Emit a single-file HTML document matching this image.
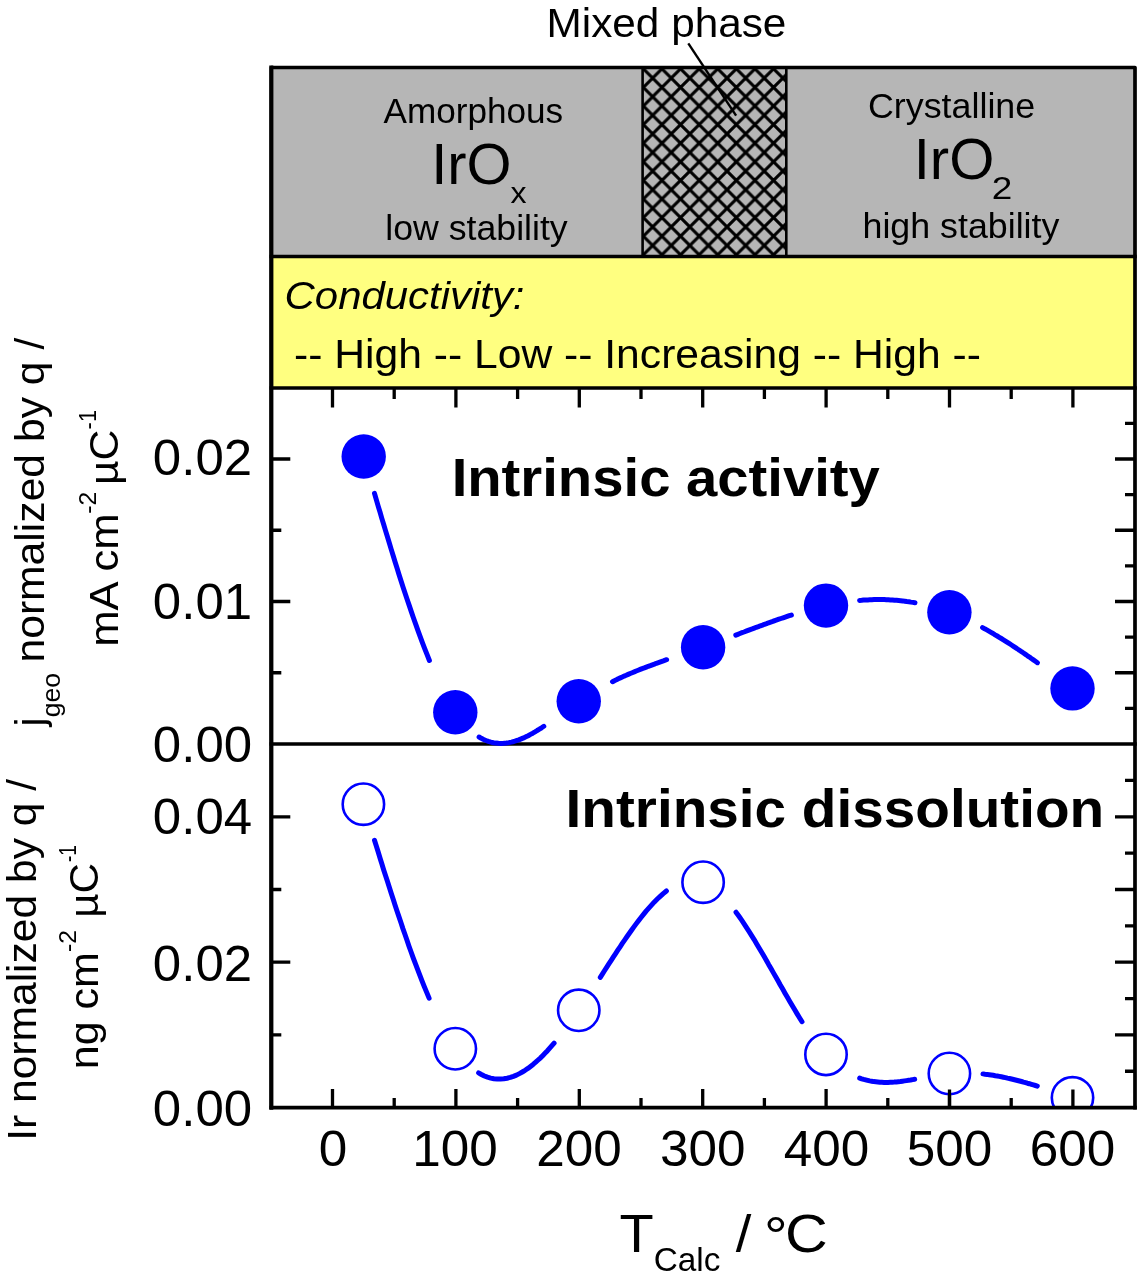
<!DOCTYPE html>
<html><head><meta charset="utf-8"><title>Figure</title>
<style>html,body{margin:0;padding:0;background:#fff}svg{display:block}svg text{font-family:"Liberation Sans",Arial,Helvetica,sans-serif}</style></head>
<body>
<svg width="1141" height="1280" viewBox="0 0 1141 1280" >
<defs>
<pattern id="hatch" patternUnits="userSpaceOnUse" x="671.25" y="78.1" width="18.6" height="18.6"><rect width="18.6" height="18.6" fill="#b6b6b6"/><path d="M0 0L18.6 18.6M0 18.6L18.6 0M-18.6 0L0 18.6" stroke="#000" stroke-width="3.1" stroke-linecap="square" fill="none"/></pattern>
<clipPath id="clip2"><rect x="271.3" y="744.0" width="863.7" height="363.5999999999999"/></clipPath>
</defs>
<rect width="1141" height="1280" fill="#fff"/>
<rect x="271.3" y="67.5" width="863.7" height="189.0" fill="#b6b6b6"/>
<rect x="642.6" y="67.5" width="143.69999999999993" height="189.0" fill="url(#hatch)" stroke="#000" stroke-width="2.6"/>
<rect x="271.3" y="256.5" width="863.7" height="131.5" fill="#ffff80"/>
<path d="M271.3 1107.6V67.5H1135.0V1107.6" stroke="#000" stroke-width="3.7" fill="none" stroke-linejoin="round" stroke-linecap="square"/>
<path d="M271.3 1107.6V67.5" stroke="#000" stroke-width="4.0" fill="none" stroke-linecap="square"/>
<g stroke="#000" stroke-width="3.5" fill="none" stroke-linecap="square">
<path d="M271.3 256.5H1135.0"/>
<path d="M271.3 388.0H1135.0"/>
<path d="M271.3 744.0H1135.0"/>
</g>
<path d="M332.50 388.0v19.5M332.50 1107.6v-18.5M394.20 388.0v11M394.20 1107.6v-9.5M455.90 388.0v19.5M455.90 1107.6v-18.5M517.60 388.0v11M517.60 1107.6v-9.5M579.30 388.0v19.5M579.30 1107.6v-18.5M641.00 388.0v11M641.00 1107.6v-9.5M702.70 388.0v19.5M702.70 1107.6v-18.5M764.40 388.0v11M764.40 1107.6v-9.5M826.10 388.0v19.5M826.10 1107.6v-18.5M887.80 388.0v11M887.80 1107.6v-9.5M949.50 388.0v19.5M949.50 1107.6v-18.5M1011.20 388.0v11M1011.20 1107.6v-9.5M1072.90 388.0v19.5M1072.90 1107.6v-18.5M271.3 459.00h19M271.3 601.50h19M271.3 530.25h10M271.3 672.75h10M1135.0 708.38h-10M1135.0 672.75h-20M1135.0 637.12h-10M1135.0 601.50h-20M1135.0 565.88h-10M1135.0 530.25h-20M1135.0 494.62h-10M1135.0 459.00h-20M1135.0 423.38h-10M271.3 816.80h19M271.3 962.20h19M271.3 889.50h10M271.3 1034.90h10M1135.0 1071.25h-10M1135.0 1034.90h-20M1135.0 998.55h-10M1135.0 962.20h-20M1135.0 925.85h-10M1135.0 889.50h-20M1135.0 853.15h-10M1135.0 816.80h-20M1135.0 780.45h-10" stroke="#000" stroke-width="3.3" fill="none"/>
<path d="M374.5 493.4L376.3 499.6L378.1 505.9L380.0 512.1L381.8 518.4L383.7 524.6L385.6 530.9L387.5 537.1L389.4 543.3L391.3 549.6L393.2 555.8L395.1 562.0L397.1 568.2L399.0 574.5L401.0 580.7L403.0 586.9L405.0 593.1L407.1 599.3L409.2 605.4L411.3 611.6L413.4 617.8L415.6 623.9L417.8 630.1L420.0 636.2L422.3 642.3L424.6 648.4L427.0 654.4L429.4 660.5M479.1 737.0L481.3 738.3L483.6 739.5L486.0 740.5L488.4 741.4L490.9 742.1L493.4 742.7L496.0 743.1L498.5 743.3L501.1 743.4L503.7 743.3L506.3 743.0L508.8 742.6L511.4 742.1L513.9 741.5L516.3 740.7L518.8 739.9L521.2 738.9L523.6 737.9L525.9 736.8L528.2 735.7L530.5 734.4L532.8 733.2L535.0 731.9L537.2 730.5L539.4 729.2L541.6 727.8L543.8 726.3M612.5 681.7L614.4 680.7L616.4 679.8L618.3 678.8L620.3 677.9L622.3 677.0L624.2 676.1L626.2 675.3L628.2 674.4L630.2 673.5L632.2 672.7L634.2 671.9L636.2 671.0L638.2 670.2L640.2 669.4L642.2 668.6L644.3 667.9L646.3 667.1L648.3 666.3L650.3 665.6L652.4 664.8L654.4 664.1L656.4 663.3L658.5 662.6L660.5 661.9L662.6 661.2L664.6 660.4L666.6 659.7M735.8 635.1L737.9 634.3L739.9 633.5L742.0 632.7L744.0 632.0L746.1 631.2L748.1 630.4L750.2 629.6L752.2 628.9L754.3 628.1L756.3 627.3L758.4 626.6L760.4 625.8L762.5 625.1L764.5 624.3L766.6 623.6L768.6 622.8L770.7 622.1L772.8 621.4L774.8 620.6L776.9 619.9L778.9 619.2L781.0 618.5L783.1 617.8L785.2 617.1L787.2 616.4L789.3 615.7L791.4 615.1M859.6 600.4L861.6 600.3L863.7 600.1L865.7 600.0L867.8 599.9L869.8 599.8L871.9 599.7L874.0 599.6L876.0 599.6L878.1 599.6L880.1 599.6L882.2 599.6L884.3 599.6L886.3 599.7L888.4 599.8L890.4 599.9L892.5 600.0L894.5 600.2L896.6 600.3L898.6 600.5L900.7 600.7L902.7 600.9L904.8 601.2L906.8 601.5L908.9 601.7L910.9 602.1L912.9 602.4L915.0 602.7M982.6 627.6L984.7 628.8L986.8 629.9L988.9 631.1L991.0 632.3L993.1 633.5L995.1 634.8L997.2 636.0L999.3 637.3L1001.3 638.5L1003.4 639.8L1005.4 641.1L1007.4 642.4L1009.5 643.7L1011.5 645.0L1013.5 646.3L1015.5 647.6L1017.5 649.0L1019.5 650.3L1021.5 651.7L1023.5 653.0L1025.5 654.4L1027.5 655.8L1029.5 657.1L1031.4 658.5L1033.4 659.9L1035.4 661.3L1037.4 662.7" stroke="#0000ff" stroke-width="5" fill="none" stroke-linecap="round" stroke-linejoin="round"/>
<path d="M374.5 840.3L376.4 846.2L378.2 852.1L380.0 858.0L381.9 864.0L383.7 869.9L385.6 875.7L387.5 881.6L389.4 887.5L391.3 893.4L393.2 899.3L395.1 905.2L397.0 911.1L399.0 916.9L401.0 922.8L402.9 928.6L405.0 934.5L407.0 940.3L409.0 946.2L411.1 952.0L413.2 957.8L415.4 963.6L417.6 969.4L419.8 975.2L422.0 980.9L424.3 986.7L426.7 992.4L429.1 998.1M478.6 1072.9L481.4 1074.5L484.4 1076.0L487.5 1077.2L490.7 1078.1L493.9 1078.8L497.2 1079.1L500.5 1079.1L503.8 1078.8L507.1 1078.2L510.3 1077.4L513.4 1076.3L516.5 1075.1L519.4 1073.6L522.3 1072.0L525.1 1070.3L527.9 1068.4L530.5 1066.4L533.1 1064.4L535.7 1062.2L538.1 1060.0L540.6 1057.8L542.9 1055.4L545.2 1053.1L547.5 1050.7L549.7 1048.2L551.9 1045.7L554.1 1043.2M600.3 977.3L602.5 973.9L604.6 970.5L606.8 967.1L609.0 963.7L611.2 960.3L613.4 956.9L615.6 953.6L617.8 950.2L620.1 946.8L622.3 943.4L624.6 940.1L626.9 936.8L629.2 933.5L631.5 930.2L633.9 926.9L636.3 923.6L638.7 920.4L641.2 917.2L643.7 914.1L646.3 910.9L649.0 907.9L651.7 904.9L654.4 901.9L657.3 899.0L660.2 896.3L663.2 893.6L666.4 891.0M736.0 912.2L738.8 916.0L741.5 919.9L744.1 923.8L746.7 927.8L749.3 931.8L751.8 935.8L754.3 939.8L756.7 943.9L759.1 948.0L761.5 952.0L763.9 956.1L766.3 960.2L768.6 964.4L771.0 968.5L773.3 972.6L775.7 976.7L778.0 980.8L780.3 985.0L782.7 989.1L785.0 993.2L787.4 997.3L789.8 1001.4L792.2 1005.5L794.6 1009.6L797.0 1013.6L799.5 1017.7L802.0 1021.7M859.7 1078.1L861.7 1078.8L863.7 1079.4L865.6 1079.9L867.6 1080.4L869.7 1080.9L871.7 1081.2L873.7 1081.6L875.8 1081.8L877.8 1082.0L879.9 1082.2L881.9 1082.3L884.0 1082.4L886.0 1082.4L888.1 1082.4L890.2 1082.3L892.2 1082.2L894.3 1082.1L896.3 1081.9L898.4 1081.7L900.4 1081.5L902.5 1081.2L904.5 1080.9L906.5 1080.6L908.6 1080.3L910.6 1080.0L912.6 1079.6L914.7 1079.3M983.0 1073.9L985.0 1074.2L987.1 1074.4L989.1 1074.7L991.2 1075.0L993.2 1075.3L995.3 1075.7L997.3 1076.0L999.3 1076.4L1001.4 1076.8L1003.4 1077.2L1005.4 1077.6L1007.4 1078.1L1009.4 1078.5L1011.5 1079.0L1013.5 1079.5L1015.5 1080.0L1017.5 1080.5L1019.5 1081.0L1021.5 1081.5L1023.5 1082.1L1025.5 1082.6L1027.4 1083.2L1029.4 1083.7L1031.4 1084.3L1033.4 1084.9L1035.4 1085.5L1037.3 1086.1" stroke="#0000ff" stroke-width="5" fill="none" stroke-linecap="round" stroke-linejoin="round"/>
<circle cx="363.7" cy="456.5" r="22.2" fill="#0000ff"/>
<circle cx="455.3" cy="712.2" r="22.2" fill="#0000ff"/>
<circle cx="578.75" cy="701.25" r="22.2" fill="#0000ff"/>
<circle cx="703.1" cy="647.2" r="22.2" fill="#0000ff"/>
<circle cx="826" cy="605.6" r="22.2" fill="#0000ff"/>
<circle cx="949.4" cy="612.2" r="22.2" fill="#0000ff"/>
<circle cx="1072.5" cy="688.4" r="22.2" fill="#0000ff"/>
<g clip-path="url(#clip2)">
<circle cx="363.4" cy="804.2" r="20.7" fill="#fff" stroke="#0000ff" stroke-width="2.6"/>
<circle cx="455.3" cy="1048.75" r="20.7" fill="#fff" stroke="#0000ff" stroke-width="2.6"/>
<circle cx="578.75" cy="1010.3" r="20.7" fill="#fff" stroke="#0000ff" stroke-width="2.6"/>
<circle cx="703.1" cy="882.2" r="20.7" fill="#fff" stroke="#0000ff" stroke-width="2.6"/>
<circle cx="826" cy="1054.4" r="20.7" fill="#fff" stroke="#0000ff" stroke-width="2.6"/>
<circle cx="949.4" cy="1073.5" r="20.7" fill="#fff" stroke="#0000ff" stroke-width="2.6"/>
<circle cx="1072.5" cy="1097.8" r="20.7" fill="#fff" stroke="#0000ff" stroke-width="2.6"/>
</g>
<path d="M949.50 1107.6v-18M1072.90 1107.6v-18" stroke="#000" stroke-width="3.3" fill="none"/>
<path d="M271.3 1107.6H1135.0" stroke="#000" stroke-width="3.6" stroke-linecap="square"/>
<path d="M688.3 43.4L736.1 115.7" stroke="#000" stroke-width="2.4"/>
<text transform="translate(546.62,37.00) scale(1.0416,1)" font-size="40.6" fill="#000">Mixed phase</text>
<text transform="translate(383.50,122.60) scale(1.0209,1)" font-size="34.4" fill="#000">Amorphous</text>
<text transform="translate(431.29,184.10) scale(1.0237,1)" font-size="56.5" fill="#000">IrO</text>
<text transform="translate(510.48,203.40) scale(1.0694,1)" font-size="30" fill="#000">x</text>
<text transform="translate(385.28,240.00) scale(1.0434,1)" font-size="34.2" fill="#000">low stability</text>
<text transform="translate(868.01,118.00) scale(1.0413,1)" font-size="34.4" fill="#000">Crystalline</text>
<text transform="translate(913.67,179.00) scale(1.0280,1)" font-size="56.5" fill="#000">IrO</text>
<text transform="translate(991.75,198.70) scale(1.1911,1)" font-size="31" fill="#000">2</text>
<text transform="translate(862.49,237.70) scale(1.0403,1)" font-size="34.4" fill="#000">high stability</text>
<text transform="translate(284.59,308.50) scale(1.0612,1)" font-size="39.5" font-style="italic" fill="#000">Conductivity:</text>
<text transform="translate(293.98,367.80) scale(1.0276,1)" font-size="41.5" fill="#000">-- High -- Low -- Increasing -- High --</text>
<text transform="translate(451.64,495.50) scale(1.0419,1)" font-size="54" font-weight="bold" fill="#000">Intrinsic activity</text>
<text transform="translate(565.61,826.60) scale(1.0499,1)" font-size="54" font-weight="bold" fill="#000">Intrinsic dissolution</text>
<text transform="translate(152.86,475.17) scale(1.0365,1)" font-size="49.2" fill="#000">0.02</text>
<text transform="translate(152.86,618.87) scale(1.0365,1)" font-size="49.2" fill="#000">0.01</text>
<text transform="translate(152.86,761.97) scale(1.0365,1)" font-size="49.2" fill="#000">0.00</text>
<text transform="translate(152.86,833.87) scale(1.0365,1)" font-size="49.2" fill="#000">0.04</text>
<text transform="translate(152.86,981.07) scale(1.0365,1)" font-size="49.2" fill="#000">0.02</text>
<text transform="translate(152.86,1126.37) scale(1.0365,1)" font-size="49.2" fill="#000">0.00</text>
<text transform="translate(318.65,1166.30) scale(1.0420,1)" font-size="49.2" fill="#000">0</text>
<text transform="translate(412.20,1166.30) scale(1.0420,1)" font-size="49.2" fill="#000">100</text>
<text transform="translate(536.24,1166.30) scale(1.0420,1)" font-size="49.2" fill="#000">200</text>
<text transform="translate(659.89,1166.30) scale(1.0420,1)" font-size="49.2" fill="#000">300</text>
<text transform="translate(783.81,1166.30) scale(1.0420,1)" font-size="49.2" fill="#000">400</text>
<text transform="translate(906.69,1166.30) scale(1.0420,1)" font-size="49.2" fill="#000">500</text>
<text transform="translate(1029.84,1166.30) scale(1.0420,1)" font-size="49.2" fill="#000">600</text>
<text transform="translate(619.38,1252.00) scale(1.0461,1)" font-size="53.5" fill="#000">T</text>
<text transform="translate(653.73,1270.90) scale(0.9896,1)" font-size="33.7" fill="#000">Calc</text>
<text transform="translate(735.80,1252.00) scale(1.0888,1)" font-size="51.5" fill="#000">/</text>
<text transform="translate(763.94,1255.20) scale(1.1081,1)" font-size="53.5" fill="#000">°</text>
<text transform="translate(785.04,1252.00) scale(1.1068,1)" font-size="53.5" fill="#000">C</text>
<text transform="translate(44.20,726.34) rotate(-90) scale(0.9583,1)" font-size="40">j</text>
<text transform="translate(60.10,717.16) rotate(-90) scale(1.0625,1)" font-size="25">geo</text>
<text transform="translate(44.20,662.57) rotate(-90) scale(1.0669,1)" font-size="40">normalized by q /</text>
<text transform="translate(118.00,646.84) rotate(-90) scale(1.0655,1)" font-size="41">mA cm</text>
<text transform="translate(95.60,513.82) rotate(-90) scale(1.0412,1)" font-size="23.8">-2</text>
<text transform="translate(118.00,484.99) rotate(-90) scale(1.0412,1)" font-size="41">µC</text>
<text transform="translate(95.60,429.38) rotate(-90) scale(0.9191,1)" font-size="23.8">-1</text>
<text transform="translate(36.20,1140.83) rotate(-90) scale(1.0642,1)" font-size="40">Ir normalized by q /</text>
<text transform="translate(98.00,1069.30) rotate(-90) scale(1.0508,1)" font-size="41">ng cm</text>
<text transform="translate(75.90,952.02) rotate(-90) scale(1.0412,1)" font-size="23.8">-2</text>
<text transform="translate(98.00,917.76) rotate(-90) scale(1.0309,1)" font-size="41">µC</text>
<text transform="translate(75.90,862.06) rotate(-90) scale(0.8036,1)" font-size="23.8">-1</text>
</svg>
</body></html>
